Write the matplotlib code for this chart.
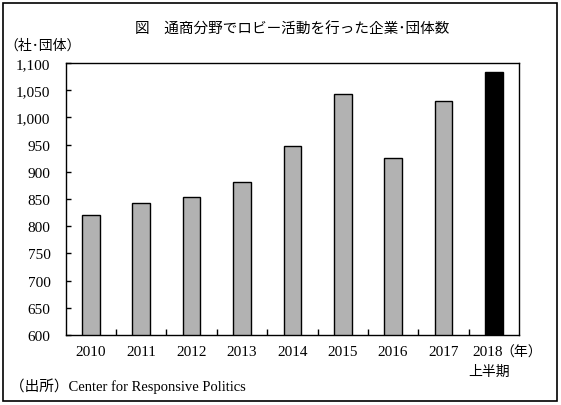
import matplotlib
matplotlib.use('Agg')
import matplotlib.pyplot as plt
import matplotlib.patches as patches
import matplotlib.transforms as mtransforms
import numpy as np

years = ['2010', '2011', '2012', '2013', '2014', '2015', '2016', '2017', '2018']
counts = [820, 842, 853, 881, 947, 1043, 925, 1030, 1083]
bar_colors = ['#b2b2b2'] * 8 + ['#000000']
yticks = [600, 650, 700, 750, 800, 850, 900, 950, 1000, 1050, 1100]

serif = ['Liberation Serif', 'Noto Sans CJK JP']
jp = ['Noto Sans CJK JP', 'DejaVu Sans']

W, H = 561, 406
fig = plt.figure(figsize=(W / 100, H / 100), dpi=100)

# 外枠
fig.patches.append(patches.Rectangle((3 / W, 4 / H), 554 / W, 398 / H,
                                     transform=fig.transFigure, fill=False,
                                     edgecolor='black', linewidth=1.2))

ax = fig.add_axes([65.7 / W, 70 / H, 453.3 / W, 272 / H])
x = np.arange(len(years))
ax.bar(x, counts, width=0.35, color=bar_colors, edgecolor='black', linewidth=1.0, zorder=2)

ax.set_xlim(-0.5, len(years) - 0.5)
ax.set_ylim(600, 1100)
ax.set_yticks(yticks)
ax.set_yticklabels([f'{v:,}' for v in yticks], family=serif, fontsize=11)
ax.set_xticks(x)
labels = ax.set_xticklabels(years, family=serif, fontsize=11, va='top')
ax.set_xticks(np.arange(0.5, len(years) - 1, 1.0), minor=True)
ax.tick_params(axis='x', which='major', length=0, pad=7)
ax.tick_params(axis='x', which='minor', direction='in', length=4, width=1)
ax.tick_params(axis='y', direction='in', length=3.5, width=1, pad=11)
for s in ax.spines.values():
    s.set_linewidth(1.0)

# 2018年のラベルは少し左へ
shift = mtransforms.ScaledTranslation(-6.5 / 100, 0, fig.dpi_scale_trans)
labels[-1].set_transform(labels[-1].get_transform() + shift)

fig.text(292 / W, 1 - 30 / H, '図　通商分野でロビー活動を行った企業･団体数',
         ha='center', va='center', family=jp, fontsize=10.5)
fig.text(4 / W, 1 - 46 / H, '（社･団体）', ha='left', va='center', family=jp, fontsize=10)
fig.text(500 / W, 1 - 352.7 / H, '（年）', ha='left', va='center', family=jp, fontsize=10)
fig.text(489 / W, 1 - 371.5 / H, '上半期', ha='center', va='center', family=jp, fontsize=10)
fig.text(10 / W, 1 - 386.5 / H, '（出所）Center for Responsive Politics',
         ha='left', va='center', family=serif, fontsize=10.5)

fig.savefig('out.png', dpi=100)
